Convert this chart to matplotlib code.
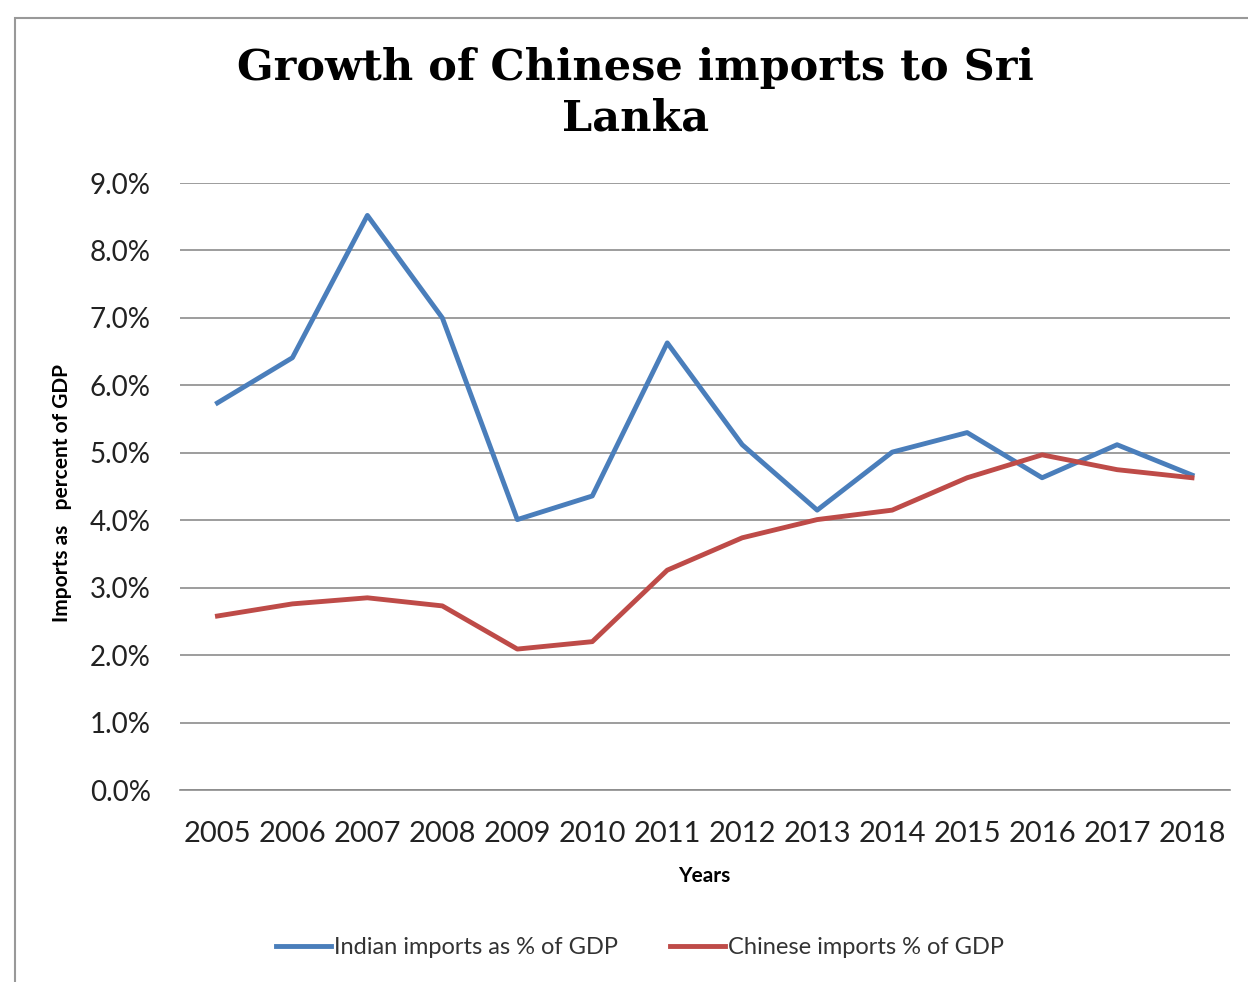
import matplotlib
matplotlib.use("Agg")
import matplotlib.pyplot as plt
from matplotlib.ticker import FuncFormatter
from matplotlib.patches import Rectangle

years = ["2005", "2006", "2007", "2008", "2009", "2010", "2011",
         "2012", "2013", "2014", "2015", "2016", "2017", "2018"]
indian = [5.74, 6.41, 8.52, 7.00, 4.01, 4.36, 6.63,
          5.12, 4.15, 5.01, 5.30, 4.63, 5.12, 4.67]
chinese = [2.58, 2.76, 2.85, 2.73, 2.09, 2.20, 3.26,
           3.74, 4.01, 4.15, 4.63, 4.97, 4.75, 4.63]

plt.rcParams['font.family'] = ['Lato', 'DejaVu Sans']

fig = plt.figure(figsize=(12.48, 9.82), dpi=100)
ax = fig.add_axes([0.1442, 0.1955, 0.841, 0.6181])

x = range(len(years))
ax.plot(x, indian, color='#4a7ebb', lw=3.5, label='Indian imports as % of GDP')
ax.plot(x, chinese, color='#be4b48', lw=3.5, label='Chinese imports % of GDP')

ax.set_xlim(-0.5, len(years) - 0.5)
ax.set_ylim(0, 9)
ax.set_yticks([i for i in range(10)])
ax.yaxis.set_major_formatter(FuncFormatter(lambda v, p: f"{v:.1f}%"))
ax.set_xticks(list(x))
ax.set_xticklabels(years)
ax.grid(axis='y', color='#8c8c8c', lw=1.2)
ax.set_axisbelow(True)
for s in ['top', 'right', 'left']:
    ax.spines[s].set_visible(False)
ax.spines['bottom'].set_color('#8c8c8c')
ax.spines['bottom'].set_linewidth(1.2)
ax.tick_params(axis='both', length=0, colors='#222222')
ax.tick_params(axis='x', pad=22, labelsize=21)
ax.tick_params(axis='y', pad=21, labelsize=20)

ax.set_xlabel('Years', fontsize=15, fontweight='bold', labelpad=14)
ax.set_ylabel('Imports as   percent of GDP', fontsize=15, fontweight='bold')
ax.yaxis.set_label_coords(-0.103, 0.49)

fig.text(0.509, 0.905, 'Growth of Chinese imports to Sri\nLanka', ha='center', va='center',
         fontsize=31, fontweight='bold', family='DejaVu Serif', linespacing=1.25)

fig.legend(loc='center', bbox_to_anchor=(0.513, 0.035), ncol=2, frameon=False,
           fontsize=17, handlelength=2.3, handletextpad=0.15, columnspacing=2.2,
           labelcolor='#333333')

fig.patches.append(Rectangle((0.012, -0.01), 1.0, 0.992, transform=fig.transFigure,
                             fill=False, edgecolor='#999999', lw=1.5))

fig.savefig('out.png', dpi=100)
